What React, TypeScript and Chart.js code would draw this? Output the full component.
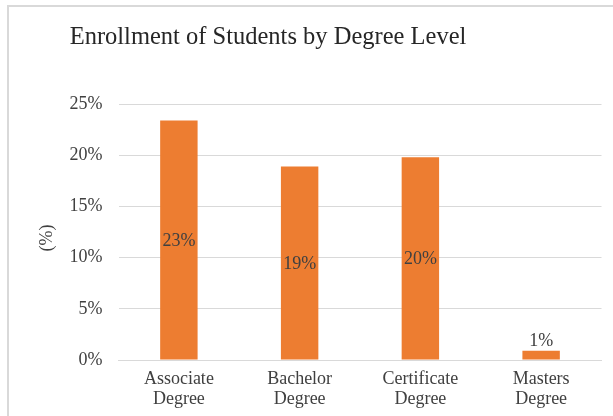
import React, { useEffect, useRef } from "react";
import { Chart, registerables } from "chart.js";

Chart.register(...registerables);

const categories: string[][] = [
  ["Associate", "Degree"],
  ["Bachelor", "Degree"],
  ["Certificate", "Degree"],
  ["Masters", "Degree"],
];
const enrollment: number[] = [23.4, 18.9, 19.8, 0.9];
const yTicks: number[] = [0, 5, 10, 15, 20, 25];
const titleText = "Enrollment of Students by Degree Level";
const yAxisTitle = "(%)";

const FONT = '"Liberation Serif", "Times New Roman", serif';
const TEXT = "#404040";
const GRID = "#d9d9d9";
const BAR = "#ED7D31";
const LABEL_SIZE = 18;

const labelPlugin = {
  id: "barLabels",
  afterDatasetsDraw(chart: any) {
    const ctx = chart.ctx;
    const meta = chart.getDatasetMeta(0);
    ctx.save();
    ctx.font = `${LABEL_SIZE}px ${FONT}`;
    ctx.fillStyle = TEXT;
    ctx.textAlign = "center";
    meta.data.forEach((bar: any, i: number) => {
      const v = enrollment[i];
      const txt = `${Math.round(v)}%`;
      const h = bar.base - bar.y;
      if (h > 30) {
        ctx.textBaseline = "middle";
        ctx.fillText(txt, bar.x, (bar.y + bar.base) / 2 + 1);
      } else {
        ctx.textBaseline = "bottom";
        ctx.fillText(txt, bar.x, bar.y - 1);
      }
    });
    // y axis title
    ctx.save();
    ctx.translate(47, 238);
    ctx.rotate(-Math.PI / 2);
    ctx.textAlign = "center";
    ctx.textBaseline = "middle";
    ctx.fillText(yAxisTitle, 0, 0);
    ctx.restore();
    // chart title
    ctx.font = `24.5px ${FONT}`;
    ctx.fillStyle = "#262626";
    ctx.textAlign = "center";
    ctx.textBaseline = "middle";
    ctx.fillText(titleText, 268, 38);
    ctx.restore();
  },
};

export default function App() {
  const ref = useRef<HTMLCanvasElement | null>(null);
  useEffect(() => {
    if (!ref.current) return;
    const chart = new Chart(ref.current, {
      type: "bar",
      data: {
        labels: categories,
        datasets: [
          {
            data: enrollment,
            backgroundColor: BAR,
            borderWidth: 0,
            barPercentage: 0.31,
            categoryPercentage: 1,
          },
        ],
      },
      options: {
        animation: false,
        responsive: false,
        maintainAspectRatio: false,
        layout: { padding: { left: 0, right: 11.5, top: 104, bottom: 0 } },
        plugins: {
          legend: { display: false },
          tooltip: { enabled: false },
          title: { display: false },
        },
        scales: {
          x: {
            grid: { display: false, drawTicks: false },
            border: { display: true, color: GRID },
            ticks: {
              color: TEXT,
              font: { family: FONT, size: LABEL_SIZE, lineHeight: 1.12 },
              padding: 9,
              maxRotation: 0,
              autoSkip: false,
            },
            afterFit: (s: any) => {
              s.height = 56;
            },
          },
          y: {
            min: 0,
            max: 25,
            afterBuildTicks: (s: any) => {
              s.ticks = yTicks.map((v) => ({ value: v }));
            },
            grid: { color: GRID, drawTicks: false },
            border: { display: false },
            ticks: {
              color: TEXT,
              font: { family: FONT, size: LABEL_SIZE },
              padding: 16,
              callback: (v: any) => `${v}%`,
            },
            afterFit: (s: any) => {
              s.width = 118.5;
            },
          },
        },
      },
      plugins: [labelPlugin],
    });
    return () => chart.destroy();
  }, []);

  return (
    <div style={{ position: "fixed", left: 0, top: 0, width: 613, height: 416, background: "#fff", overflow: "hidden" }}>
      <div
        style={{
          position: "absolute",
          left: 7,
          top: 5,
          width: 700,
          height: 500,
          borderLeft: `2px solid ${GRID}`,
          borderTop: `2px solid ${GRID}`,
        }}
      />
      <canvas ref={ref} width={613} height={416} style={{ position: "absolute", left: 0, top: 0 }} />
    </div>
  );
}
